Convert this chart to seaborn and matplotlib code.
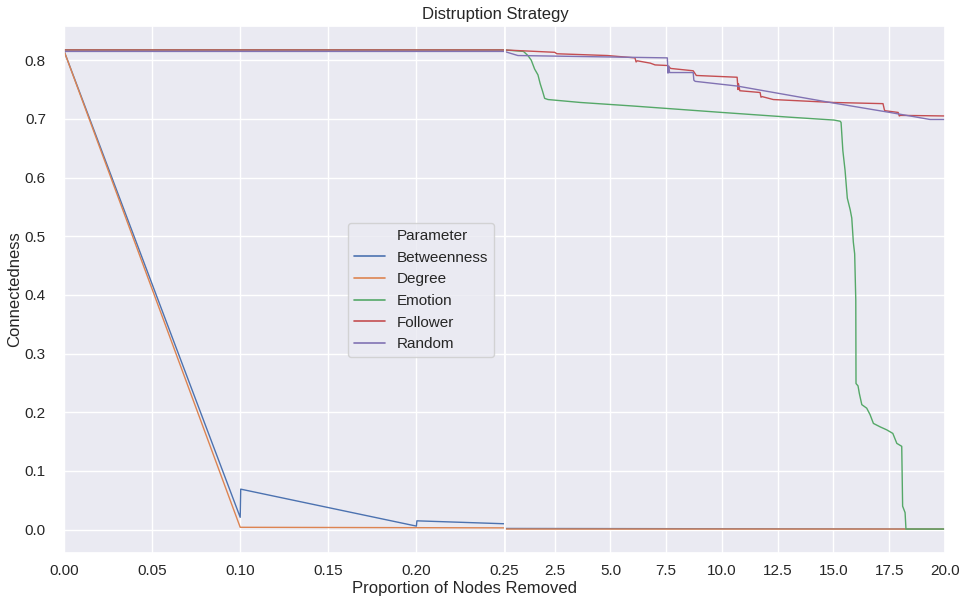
import pandas as pd
import matplotlib
matplotlib.use("Agg")
import matplotlib.pyplot as plt
from matplotlib.lines import Line2D
import seaborn as sns

# values
betweenness_x = [0.0, 0.10, 0.1003, 0.20, 0.2003, 0.25, 0.26, 20.0]
betweenness_y = [0.816, 0.021, 0.069, 0.006, 0.015, 0.010, 0.002, 0.001]

degree_x = [0.0, 0.10, 0.25, 0.26, 20.0]
degree_y = [0.816, 0.004, 0.003, 0.001, 0.001]

emotion_x = [0.0, 0.25, 1.1, 1.3, 1.45, 1.6, 1.75, 1.85, 1.95, 2.05, 2.2, 3.65, 6.0,
             10.0, 13.0, 15.03, 15.3, 15.34, 15.42, 15.52, 15.62, 15.75, 15.82, 15.89,
             15.95, 16.0, 16.01, 16.1, 16.16, 16.27, 16.49, 16.64, 16.79, 17.1, 17.39,
             17.66, 17.84, 18.06, 18.10, 18.21, 18.25, 20.0]
emotion_y = [0.8175, 0.8175, 0.815, 0.808, 0.800, 0.785, 0.775, 0.760, 0.748, 0.735, 0.733,
             0.728, 0.722, 0.711, 0.703, 0.698, 0.696, 0.694, 0.646, 0.612, 0.565, 0.545,
             0.531, 0.490, 0.470, 0.391, 0.249, 0.245, 0.232, 0.213, 0.207, 0.196, 0.181,
             0.175, 0.170, 0.164, 0.147, 0.142, 0.040, 0.029, 0.001, 0.001]

follower_x = [0.0, 0.25, 2.5, 2.6, 4.86, 6.1, 6.15, 6.2, 6.79, 7.0, 7.55, 7.7, 8.71, 8.85,
              10.68, 10.72, 10.74, 10.8, 11.71, 11.75, 11.8, 12.3, 15.0, 17.22, 17.28,
              17.3, 17.9, 17.95, 18.0, 20.0]
follower_y = [0.8175, 0.8175, 0.8135, 0.811, 0.808, 0.804, 0.797, 0.799, 0.795, 0.792,
              0.791, 0.786, 0.782, 0.774, 0.771, 0.750, 0.760, 0.748, 0.745, 0.737, 0.738,
              0.733, 0.728, 0.726, 0.716, 0.714, 0.711, 0.705, 0.706, 0.705]

random_x = [0.0, 0.25, 0.5, 0.85, 7.55, 7.58, 7.62, 7.65, 8.71, 8.74, 8.8, 10.68, 14.85,
            17.53, 19.33, 20.0]
random_y = [0.815, 0.815, 0.812, 0.808, 0.804, 0.778, 0.790, 0.779, 0.779, 0.766, 0.764,
            0.756, 0.728, 0.711, 0.699, 0.699]

series = {
    "Betweenness": (betweenness_x, betweenness_y),
    "Degree": (degree_x, degree_y),
    "Emotion": (emotion_x, emotion_y),
    "Follower": (follower_x, follower_y),
    "Random": (random_x, random_y),
}

frames = []
for name, (xs, ys) in series.items():
    frames.append(pd.DataFrame({"Removed": xs, "Connectedness": ys, "Parameter": name}))
df = pd.concat(frames, ignore_index=True)

sns.set_theme(style="darkgrid")
plt.rcParams["font.family"] = ["Liberation Sans", "DejaVu Sans"]

fig, (ax1, ax2) = plt.subplots(1, 2, sharey=True, figsize=(9.74, 6.0), dpi=100)
fig.subplots_adjust(left=64/974, right=945/974, bottom=1-553/600, top=1-26/600, wspace=0)

palette = sns.color_palette("deep", 5)
for ax in (ax1, ax2):
    sns.lineplot(data=df, x="Removed", y="Connectedness", hue="Parameter",
                 estimator=None, sort=False, linewidth=1.0, palette=palette,
                 legend=False, ax=ax)
    ax.tick_params(axis="x", labelsize=11, pad=2)
    ax.tick_params(axis="y", labelsize=11, pad=7)
    ax.set_xlabel("")

ax1.set_xlim(0, 0.25)
ax1.set_xticks([0.0, 0.05, 0.10, 0.15, 0.20, 0.25])
ax2.set_xlim(0.25, 20.0)
ax2.set_xticks([2.5, 5.0, 7.5, 10.0, 12.5, 15.0, 17.5, 20.0])
ax2.set_ylabel("")
ax1.set_ylabel("Connectedness", fontsize=12, labelpad=2)

fig.text(495/974, 1-14/600, "Distruption Strategy", ha="center", va="center", fontsize=12)
fig.text(465/974, 1-589/600, "Proportion of Nodes Removed", ha="center", va="center", fontsize=12)

# old-style seaborn legend: hue name as first row
handles = [Line2D([], [], color="none")]
labels = ["Parameter"]
for i, name in enumerate(series):
    handles.append(Line2D([], [], color=palette[i], linewidth=1.2))
    labels.append(name)
ax1.legend(handles, labels, loc="upper left", bbox_to_anchor=(348/974, 1-223/600),
           bbox_transform=fig.transFigure, borderaxespad=0, fontsize=11,
           labelspacing=0.5)

fig.savefig("out.png", dpi=100)
